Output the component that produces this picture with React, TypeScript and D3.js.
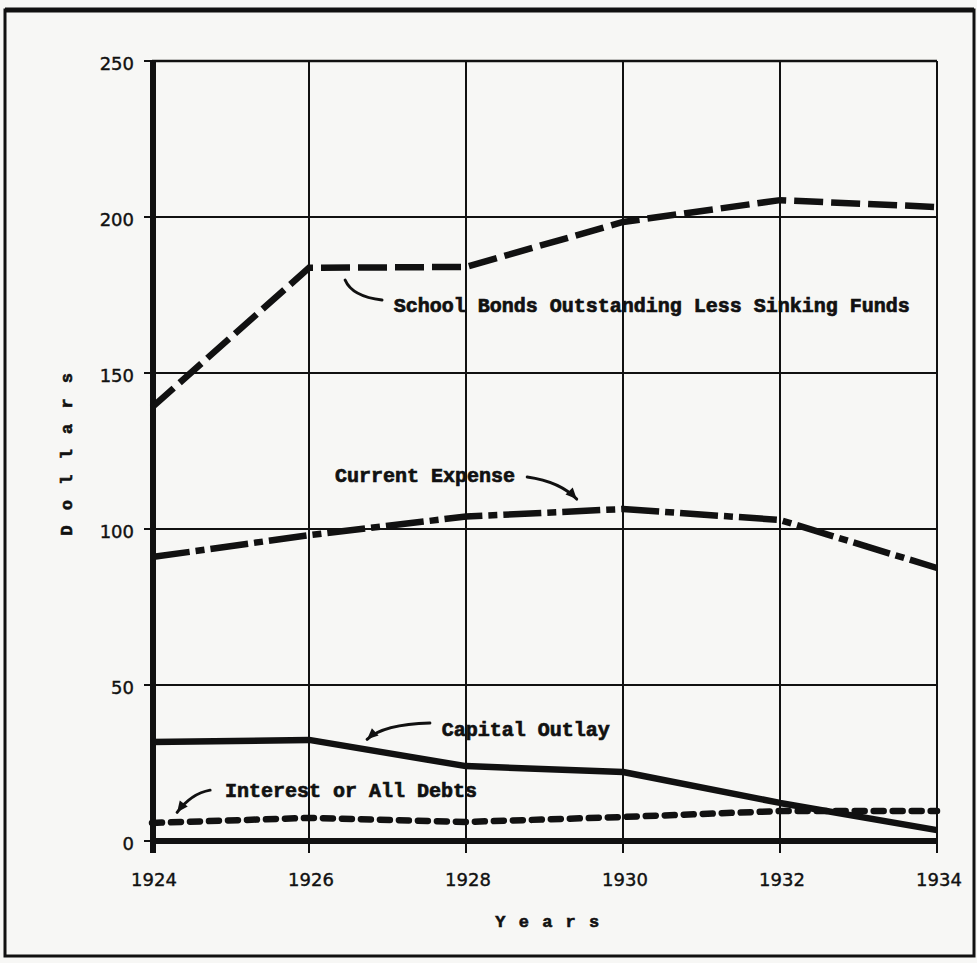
import React from "react";
import * as d3 from "d3";

const years = [1924, 1926, 1928, 1930, 1932, 1934];
const yTicks = [0, 50, 100, 150, 200, 250];
const bonds = [139, 183.7, 184, 198.4, 205.4, 203.2];
const currentExpense = [91, 98, 104, 106.4, 102.9, 87.5];
const capitalOutlay = [31.7, 32.4, 24.0, 22.1, 12.2, 3.5];
const interest = [5.8, 7.4, 6.1, 7.7, 9.6, 9.6];

const seriesNames = [
  "School Bonds Outstanding Less Sinking Funds",
  "Current Expense",
  "Capital Outlay",
  "Interest or All Debts",
];

const W = 977;
const H = 963;
const ink = "#111";
const mono = "'Liberation Mono', 'DejaVu Sans Mono', monospace";
const lettering = "'DejaVu Sans', sans-serif";

export default function App() {
  const x = d3.scaleLinear().domain([1924, 1934]).range([152, 937]);
  const y = d3.scaleLinear().domain([0, 250]).range([841, 61]);

  const line = d3
    .line<number>()
    .x((_, i) => x(years[i]))
    .y((d) => y(d))
    .curve(d3.curveLinear);

  const leader = (a: number[], c: number[], b: number[]) =>
    `M${x(a[0])},${y(a[1])} Q${x(c[0])},${y(c[1])} ${x(b[0])},${y(b[1])}`;

  const arrowHead = (c: number[], b: number[]) => {
    const x1 = x(c[0]), y1 = y(c[1]), x2 = x(b[0]), y2 = y(b[1]);
    const ang = Math.atan2(y2 - y1, x2 - x1);
    const L = 11, Wd = 5;
    const bx = x2 - L * Math.cos(ang), by = y2 - L * Math.sin(ang);
    const px = -Math.sin(ang) * Wd, py = Math.cos(ang) * Wd;
    return `M${x2},${y2} L${bx + px},${by + py} L${bx - px},${by - py} Z`;
  };

  const annotations = [
    { text: seriesNames[0], pos: [1927.08, 169.6], a: [1926.46, 179.8], c: [1926.55, 174.5], b: [1926.93, 173.4], head: false },
    { text: seriesNames[1], pos: [1926.33, 115.1], a: [1928.78, 116.7], c: [1929.2, 115.2], b: [1929.41, 109.6], head: true },
    { text: seriesNames[2], pos: [1927.69, 33.7], a: [1927.54, 37.8], c: [1926.95, 37.4], b: [1926.74, 32.6], head: true },
    { text: seriesNames[3], pos: [1924.93, 14.1], a: [1924.74, 16.3], c: [1924.5, 15.2], b: [1924.32, 9.2], head: true },
  ];

  return (
    <svg
      width={W}
      height={H}
      style={{ position: "absolute", left: 0, top: 0, display: "block" }}
    >
      <rect x={0} y={0} width={W} height={H} fill="#f7f7f5" />
      {/* outer frame */}
      <rect x={5} y={10} width={969} height={946} fill="none" stroke={ink} strokeWidth={3} />
      <line x1={5} x2={974} y1={10} y2={10} stroke={ink} strokeWidth={5} />

      {/* grid */}
      {yTicks.filter((t) => t > 0).map((t) => (
        <line key={"h" + t} x1={x(1924)} x2={x(1934)} y1={y(t)} y2={y(t)} stroke={ink} strokeWidth={t === 250 ? 2.6 : 2} />
      ))}
      {years.filter((yr) => yr > 1924).map((yr) => (
        <line key={"v" + yr} x1={x(yr)} x2={x(yr)} y1={y(250)} y2={y(0) + 12} stroke={ink} strokeWidth={2} />
      ))}

      {/* y ticks */}
      {yTicks.map((t) => (
        <g key={"yt" + t}>
          <line x1={x(1924) - 8} x2={x(1924)} y1={y(t)} y2={y(t)} stroke={ink} strokeWidth={2} />
          <text x={134} y={y(t) + 2} textAnchor="end" dominantBaseline="central" fontFamily={lettering} fontSize={18} fill={ink} stroke={ink} strokeWidth={0.4}>
            {t}
          </text>
        </g>
      ))}
      {/* x labels */}
      {years.map((yr) => (
        <text key={"xl" + yr} x={x(yr) + 2} y={886} textAnchor="middle" fontFamily={lettering} fontSize={18} fill={ink} stroke={ink} strokeWidth={0.4}>
          {yr}
        </text>
      ))}

      {/* axes */}
      <line x1={x(1924) + 1} x2={x(1924) + 1} y1={y(250) - 1} y2={y(0) + 12} stroke={ink} strokeWidth={6} />
      <line x1={x(1924) - 2} x2={x(1934)} y1={y(0)} y2={y(0)} stroke={ink} strokeWidth={6} />

      {/* series */}
      <path d={line(bonds) || ""} fill="none" stroke={ink} strokeWidth={6.5} strokeDasharray="29 8" />
      <path d={line(currentExpense) || ""} fill="none" stroke={ink} strokeWidth={6.5} strokeDasharray="38 6 9 6" />
      <path d={line(capitalOutlay) || ""} fill="none" stroke={ink} strokeWidth={6.5} strokeLinejoin="round" />
      <path d={line(interest) || ""} fill="none" stroke={ink} strokeWidth={6.5} strokeDasharray="10 9" strokeLinecap="round" />

      {/* annotations */}
      {annotations.map((an, i) => (
        <g key={"an" + i}>
          <text x={x(an.pos[0])} y={y(an.pos[1])} fontFamily={mono} fontWeight="bold" fontSize={20} fill={ink} stroke={ink} strokeWidth={0.7}>
            {an.text}
          </text>
          <path d={leader(an.a, an.c, an.b)} fill="none" stroke={ink} strokeWidth={3} strokeLinecap="round" />
          {an.head && <path d={arrowHead(an.c, an.b)} fill={ink} />}
        </g>
      ))}

      {/* axis titles */}
      <text
        x={0}
        y={0}
        transform={`translate(67,${453}) rotate(-90)`}
        textAnchor="middle"
        dominantBaseline="central"
        fontFamily={mono}
        fontWeight="bold"
        fontSize={17}
        letterSpacing={2.5}
        fill={ink}
        stroke={ink}
        strokeWidth={0.6}
      >
        D o l l a r s
      </text>
      <text x={548} y={927} textAnchor="middle" fontFamily={mono} fontWeight="bold" fontSize={17} letterSpacing={1.5} fill={ink} stroke={ink} strokeWidth={0.6}>
        Y e a r s
      </text>
    </svg>
  );
}
